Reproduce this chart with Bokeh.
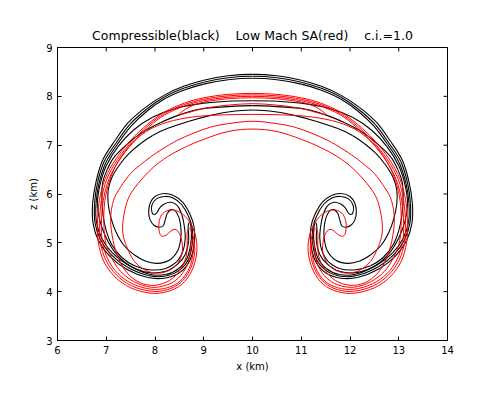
from bokeh.plotting import figure
from bokeh.models import ColumnDataSource, FixedTicker, Range1d
from bokeh.embed import file_html
from bokeh.resources import INLINE
import math

# ---- data (left half of each contour; right half is its mirror about x = 10)
x_ticks = [6, 7, 8, 9, 10, 11, 12, 13, 14]
z_ticks = [3, 4, 5, 6, 7, 8, 9]
x_lim = (6, 14)
z_lim = (3, 9)
axis_center = 10.0
title_text = "Compressible(black)\u00a0\u00a0\u00a0\u00a0Low Mach SA(red)\u00a0\u00a0\u00a0\u00a0c.i.=1.0"

# compressible run (black) contours
black_1 = [(10.00,8.45),(9.50,8.42),(9.00,8.33),(8.60,8.21),(8.20,8.03),(7.80,7.77),(7.45,7.46),(7.17,7.08),
           (6.93,6.70),(6.79,6.25),(6.72,5.80),(6.73,5.40),(6.84,5.05),(7.06,4.74),(7.40,4.47),(7.85,4.29),
           (8.22,4.28),(8.52,4.40),(8.72,4.65),(8.81,5.02),(8.80,5.33),(8.72,5.58),(8.57,5.83),(8.38,5.97),
           (8.18,6.01),(8.00,5.95),(7.90,5.81),(7.87,5.63),(7.90,5.47),(7.98,5.36),(8.08,5.32),(8.17,5.35),
           (8.21,5.47),(8.25,5.60),(8.33,5.68),(8.42,5.65),(8.49,5.52),(8.53,5.32),(8.53,5.10),(8.47,4.85),
           (8.30,4.65),(8.04,4.58),(7.80,4.63),(7.58,4.75),(7.36,4.95),(7.20,5.22),(7.10,5.50),(7.04,5.80),
           (7.04,6.08),(7.12,6.35),(7.29,6.62),(7.48,6.84),(7.70,7.03),(7.95,7.20),(8.25,7.34),(8.70,7.49),
           (9.14,7.61),(9.50,7.68),(10.00,7.72)]
black_2 = [(10.00,8.41),(9.50,8.38),(9.00,8.29),(8.60,8.17),(8.20,7.99),(7.82,7.73),(7.48,7.42),(7.20,7.04),
           (6.96,6.67),(6.82,6.23),(6.76,5.80),(6.77,5.41),(6.88,5.07),(7.09,4.77),(7.42,4.51),(7.86,4.33),
           (8.22,4.32),(8.50,4.44),(8.69,4.67),(8.77,5.03),(8.76,5.32),(8.68,5.56),(8.54,5.79),(8.37,5.92),
           (8.19,5.95),(8.03,5.90),(7.94,5.78),(7.93,5.66),(7.97,5.58),(8.04,5.62),(8.10,5.72),(8.20,5.80),
           (8.33,5.83),(8.46,5.76),(8.55,5.58),(8.60,5.35),(8.62,5.10),(8.58,4.85),(8.45,4.62),(8.20,4.47),
           (7.88,4.45),(7.58,4.53),(7.32,4.70),(7.12,4.95),(7.00,5.25),(6.93,5.60),(6.91,5.95),(6.93,6.25),
           (7.02,6.50),(7.15,6.74),(7.35,6.95),(7.57,7.14),(7.80,7.30),(8.11,7.46),(8.50,7.62),(8.93,7.74),
           (9.50,7.79),(10.00,7.81)]
black_3 = [(10.00,8.37),(9.50,8.34),(9.00,8.25),(8.60,8.13),(8.20,7.95),(7.84,7.70),(7.51,7.39),(7.23,7.02),
           (6.99,6.64),(6.85,6.21),(6.79,5.80),(6.80,5.42),(6.91,5.09),(7.12,4.80),(7.44,4.55),(7.87,4.36),
           (8.22,4.35),(8.48,4.47),(8.66,4.69),(8.74,5.03),(8.74,5.30),(8.71,5.42),(8.68,5.32),(8.69,5.05),
           (8.62,4.76),(8.47,4.57),(8.22,4.42),(7.88,4.39),(7.50,4.52),(7.20,4.78),(7.00,5.10),(6.87,5.45),
           (6.82,5.80),(6.87,6.18),(7.00,6.58),(7.25,6.98),(7.55,7.30),(7.95,7.57),(8.45,7.76),(9.00,7.86),
           (9.50,7.90),(10.00,7.91)]

# low Mach SA run (red) contours
red_1 = [(10.00,8.06),(9.50,8.04),(9.00,7.97),(8.60,7.86),(8.20,7.68),(7.85,7.43),(7.50,7.10),(7.20,6.72),
         (6.98,6.32),(6.86,5.88),(6.82,5.40),(6.84,5.00),(6.95,4.62),(7.18,4.30),(7.50,4.08),(7.90,3.97),
         (8.25,4.00),(8.55,4.15),(8.75,4.42),(8.85,4.75),(8.85,5.05),(8.77,5.32),(8.63,5.53),(8.46,5.65),
         (8.29,5.67),(8.16,5.60),(8.09,5.46),(8.08,5.28),(8.12,5.15),(8.19,5.14),(8.27,5.19),(8.35,5.26),
         (8.43,5.27),(8.50,5.19),(8.55,5.03),(8.56,4.82),(8.48,4.60),(8.32,4.45),(8.08,4.38),(7.82,4.43),
         (7.58,4.62),(7.42,4.92),(7.34,5.20),(7.35,5.50),(7.43,5.85),(7.55,6.08),(7.77,6.35),(7.98,6.56),
         (8.25,6.76),(8.60,6.95),(9.00,7.12),(9.50,7.28),(10.00,7.33)]
red_2 = [(10.00,8.03),(9.50,8.01),(9.00,7.94),(8.60,7.83),(8.20,7.65),(7.86,7.40),(7.52,7.07),(7.23,6.70),
         (7.01,6.30),(6.90,5.87),(6.86,5.40),(6.88,5.01),(6.99,4.65),(7.21,4.34),(7.52,4.12),(7.91,4.01),
         (8.25,4.04),(8.53,4.19),(8.72,4.45),(8.81,4.77),(8.80,5.05),(8.75,5.22),(8.70,5.30),(8.66,5.20),
         (8.66,4.98),(8.64,4.72),(8.52,4.45),(8.30,4.23),(8.00,4.13),(7.70,4.18),(7.45,4.36),(7.26,4.66),
         (7.14,5.05),(7.09,5.48),(7.15,5.87),(7.30,6.15),(7.50,6.42),(7.68,6.58),(7.91,6.76),(8.15,6.92),
         (8.46,7.10),(8.80,7.25),(9.14,7.37),(9.50,7.44),(10.00,7.49)]
red_3 = [(10.00,8.00),(9.50,7.98),(9.00,7.91),(8.60,7.80),(8.20,7.62),(7.87,7.37),(7.54,7.04),(7.26,6.68),
         (7.05,6.29),(6.94,5.87),(6.90,5.40),(6.92,5.02),(7.03,4.67),(7.24,4.37),(7.54,4.16),(7.92,4.05),
         (8.25,4.08),(8.52,4.22),(8.70,4.48),(8.78,4.78),(8.78,5.00),(8.76,5.08),(8.73,4.98),(8.72,4.78),
         (8.65,4.52),(8.48,4.28),(8.25,4.14),(7.93,4.09),(7.58,4.20),(7.29,4.42),(7.09,4.73),(6.98,5.05),
         (6.95,5.45),(6.97,5.85),(7.06,6.25),(7.22,6.62),(7.47,6.98),(7.82,7.28),(8.25,7.47),(8.80,7.58),
         (9.40,7.62),(10.00,7.63)]
red_4 = [(10.00,7.97),(9.50,7.95),(9.00,7.88),(8.70,7.78),(8.48,7.62),(8.62,7.65),(9.00,7.75),(9.50,7.82),
         (10.00,7.85)]

black_contours = [black_1, black_2, black_3]
red_contours = [red_1, red_2, red_3, red_4]


def closed_contour(half):
    """Left half as read, then its mirror image about x = 10 (the picture is symmetric)."""
    return list(half) + [(2 * axis_center - x, z) for x, z in reversed(half[1:-1])]


def curve_source(contours):
    """Smooth closed curve through the read points, drawn with Bokeh's bezier glyph."""
    cols = {k: [] for k in ("x0", "y0", "x1", "y1", "cx0", "cy0", "cx1", "cy1")}
    for c in contours:
        pts = closed_contour(c)
        n = len(pts)
        for i in range(n):
            p0, p1 = pts[(i - 1) % n], pts[i]
            p2, p3 = pts[(i + 1) % n], pts[(i + 2) % n]
            cols["x0"].append(p1[0]); cols["y0"].append(p1[1])
            cols["x1"].append(p2[0]); cols["y1"].append(p2[1])
            cols["cx0"].append(p1[0] + (p2[0] - p0[0]) / 6.0)
            cols["cy0"].append(p1[1] + (p2[1] - p0[1]) / 6.0)
            cols["cx1"].append(p2[0] - (p3[0] - p1[0]) / 6.0)
            cols["cy1"].append(p2[1] - (p3[1] - p1[1]) / 6.0)
    return ColumnDataSource(cols)


FONT = "DejaVu Sans"

p = figure(width=471, height=383, x_range=Range1d(*x_lim), y_range=Range1d(*z_lim),
           output_backend="svg", toolbar_location=None, title=title_text,
           min_border_left=57, min_border_right=24, min_border_top=47, min_border_bottom=43)
p.background_fill_color = "white"
p.border_fill_color = "white"
p.outline_line_color = "black"
p.outline_line_width = 1
p.outline_line_alpha = 1.0
p.grid.visible = False

p.title.text_font = FONT
p.title.text_font_size = "12.5px"
p.title.text_font_style = "normal"
p.title.align = "center"
p.title.text_color = "black"

p.bezier("x0", "y0", "x1", "y1", "cx0", "cy0", "cx1", "cy1",
         source=curve_source(black_contours), line_color="black", line_width=1.1)
p.bezier("x0", "y0", "x1", "y1", "cx0", "cy0", "cx1", "cy1",
         source=curve_source(red_contours), line_color="#ff0000", line_width=1.0)

for ax, ticks, label in ((p.xaxis[0], x_ticks, "x (km)"), (p.yaxis[0], z_ticks, "z (km)")):
    ax.ticker = FixedTicker(ticks=ticks)
    ax.major_tick_in = 4
    ax.major_tick_out = 0
    ax.minor_tick_line_color = None
    ax.major_tick_line_color = "black"
    ax.axis_line_color = "black"
    ax.major_label_text_font = FONT
    ax.major_label_text_font_size = "10px"
    ax.major_label_text_color = "black"
    ax.major_label_standoff = 5
    ax.axis_label = label
    ax.axis_label_text_font = FONT
    ax.axis_label_text_font_style = "normal"
    ax.axis_label_text_font_size = "10px"
    ax.axis_label_text_color = "black"
    ax.axis_label_standoff = 4

# inward tick marks on the top and right frame edges (the outer half is clipped by the frame)
p.scatter(x=x_ticks, y=[z_lim[1]] * len(x_ticks), marker="dash", angle=math.pi / 2, size=8,
          line_color="black", line_width=1)
p.scatter(x=[x_lim[1]] * len(z_ticks), y=z_ticks, marker="dash", size=8,
          line_color="black", line_width=1)

open("out.html", "w").write(file_html(p, INLINE))
